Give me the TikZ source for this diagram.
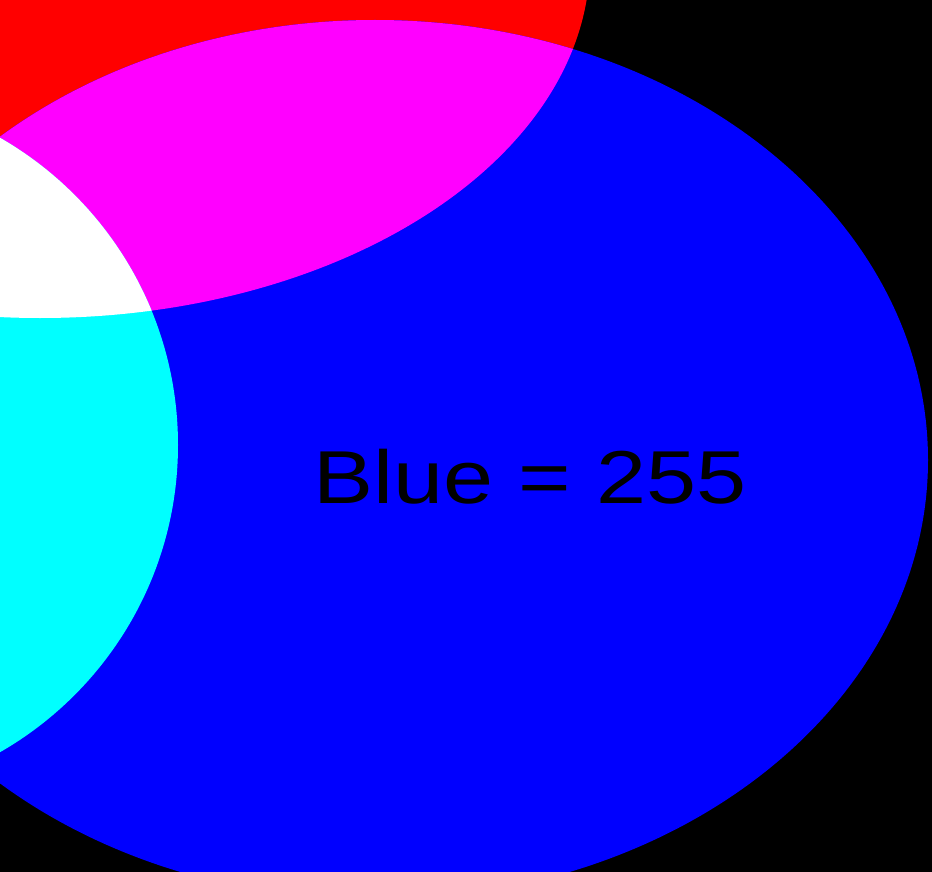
\documentclass[tikz,border=0pt]{standalone}
\usepackage{fontspec}
\setmainfont{Liberation Sans}
\definecolor{lampred}{RGB}{255,0,0}
\definecolor{lampgreen}{RGB}{0,255,0}
\definecolor{lampblue}{RGB}{0,0,255}
\definecolor{lampyellow}{RGB}{255,255,0}
\definecolor{lampmagenta}{RGB}{255,0,255}
\definecolor{lampcyan}{RGB}{0,255,255}
\definecolor{lampwhite}{RGB}{255,255,255}
\begin{document}
\begin{tikzpicture}[x=1pt, y=-1pt, line cap=round, line join=round,
  spot/.style={fill=#1, draw=none}]

% -----------------------
% Parameters (pixel units, y downwards)
% -----------------------
\def\Rrx{550pt}   % red spot, half width
\def\Rry{358pt}   % red spot, half height
\def\Gr{354pt}    % green spot radius
\def\Brx{553pt}   % blue spot, half width
\def\Bry{440pt}   % blue spot, half height

\coordinate (redc)   at (40,-40);
\coordinate (greenc) at (-176,445);
\coordinate (bluec)  at (375,460);

% -----------------------
% Dark background
% -----------------------
\useasboundingbox (0,0) rectangle (932,872);
\clip (0,0) rectangle (932,872);
\fill[black] (0,0) rectangle (932,872);

% -----------------------
% Single light spots
% -----------------------
\fill[spot=lampred]   (redc)   ellipse [x radius=\Rrx, y radius=\Rry];
\fill[spot=lampgreen] (greenc) circle  [radius=\Gr];
\fill[spot=lampblue]  (bluec)  ellipse [x radius=\Brx, y radius=\Bry];

% -----------------------
% Additive overlaps
% -----------------------
% red + green
\begin{scope}
  \clip (redc) ellipse [x radius=\Rrx, y radius=\Rry];
  \fill[spot=lampyellow] (greenc) circle [radius=\Gr];
\end{scope}
% red + blue
\begin{scope}
  \clip (redc) ellipse [x radius=\Rrx, y radius=\Rry];
  \fill[spot=lampmagenta] (bluec) ellipse [x radius=\Brx, y radius=\Bry];
\end{scope}
% green + blue
\begin{scope}
  \clip (greenc) circle [radius=\Gr];
  \fill[spot=lampcyan] (bluec) ellipse [x radius=\Brx, y radius=\Bry];
\end{scope}
% all three
\begin{scope}
  \clip (redc) ellipse [x radius=\Rrx, y radius=\Rry];
  \clip (greenc) circle [radius=\Gr];
  \fill[spot=lampwhite] (bluec) ellipse [x radius=\Brx, y radius=\Bry];
\end{scope}

% -----------------------
% Label
% -----------------------
\node[font=\fontsize{75}{80}\selectfont, xscale=1.2, anchor=base,
  inner sep=0pt] (bluelabel) at (530,503) {Blue = 255};

\end{tikzpicture}
\end{document}
